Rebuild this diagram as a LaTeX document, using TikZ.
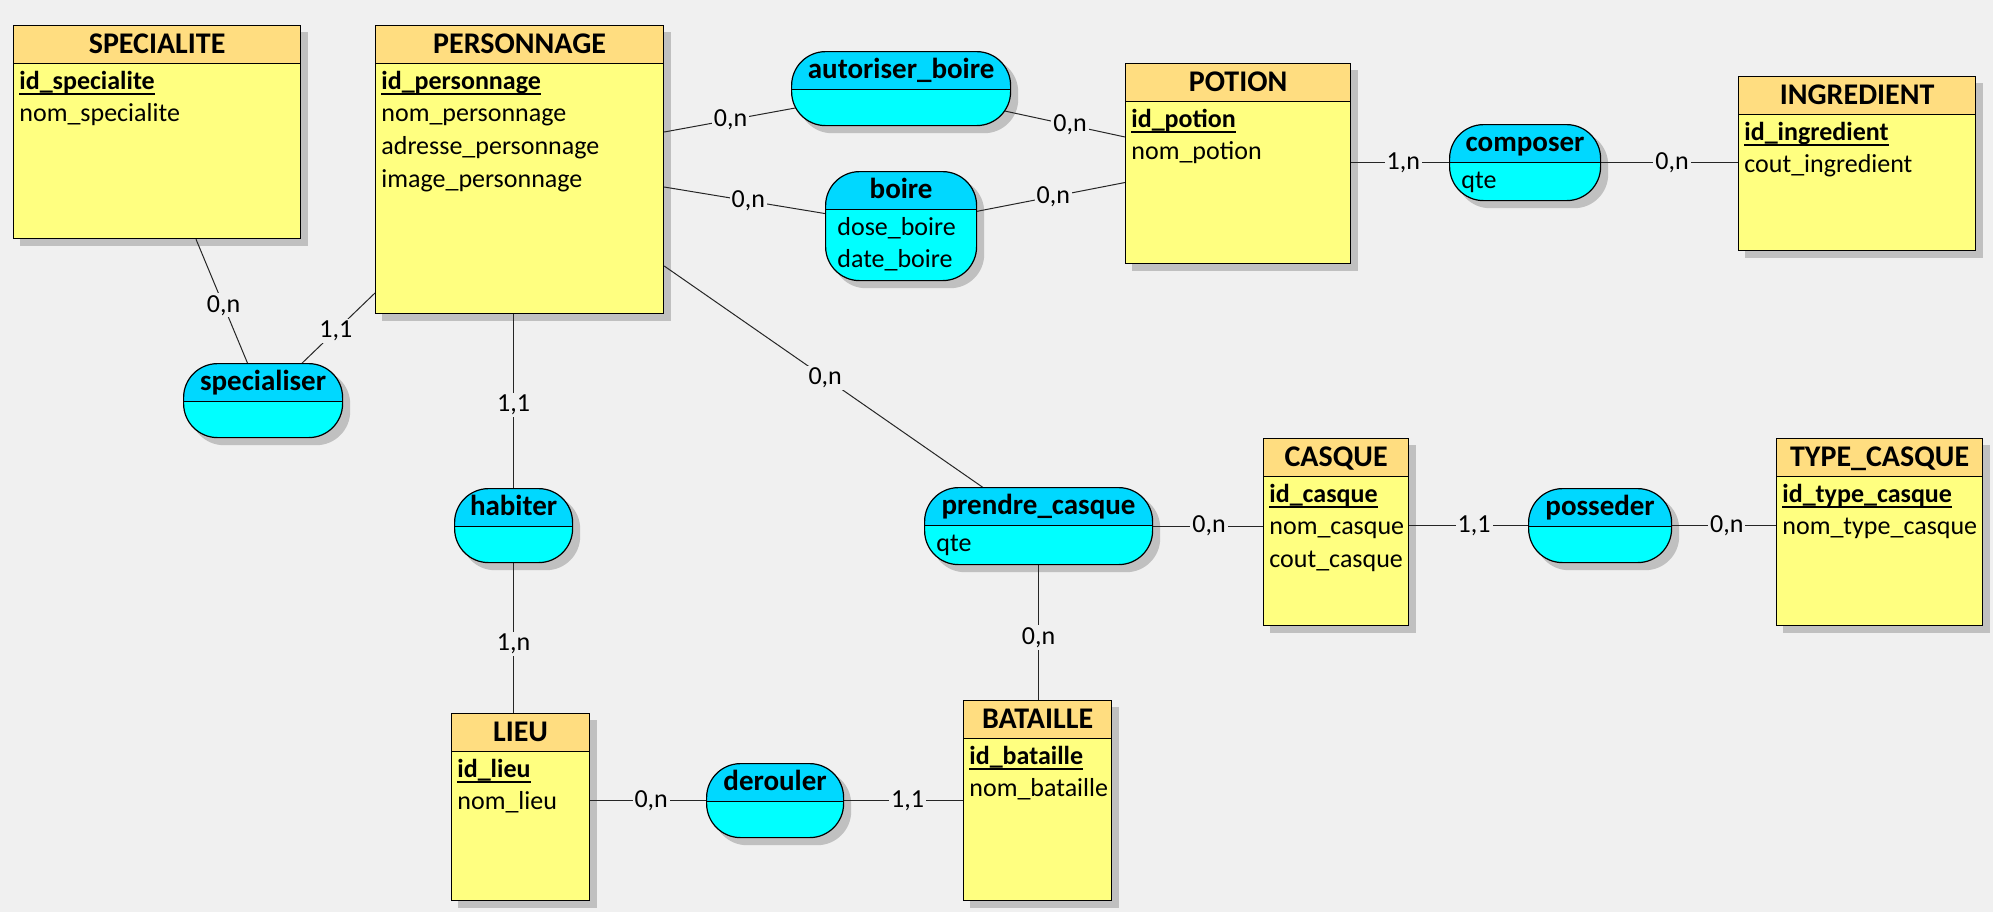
\documentclass[tikz,border=0pt]{standalone}
\usepackage{fontspec}
\setmainfont{Carlito}
\usetikzlibrary{calc}
\definecolor{canvasgray}{HTML}{F0F0F0}
\definecolor{shadowgray}{HTML}{C0C0C0}
\definecolor{enthead}{HTML}{FFDD80}
\definecolor{entbody}{HTML}{FFFF80}
\definecolor{assohead}{HTML}{00D8FF}
\definecolor{assobody}{HTML}{00FFFF}
\pgfdeclarelayer{shadowlayer}
\pgfdeclarelayer{linklayer}
\pgfsetlayers{shadowlayer,linklayer,main}
\newcommand{\pkey}[1]{\setbox0\hbox{#1}\rlap{\rule[-2.9pt]{\wd0}{0.7pt}}\box0}
\newcommand{\fieldrows}[4]{% node, indent, first row, fields
  \foreach \f [count=\r from #3] in {#4}{
    \pgfmathsetmacro{\dy}{32+16.35*\r}
    \node[attr] at ([xshift=#2,yshift=-\dy pt]#1.north west) {\f};}}
\tikzset{
  header/.style={path picture={
      \fill[#1,sharp corners] (path picture bounding box.north west) rectangle ([yshift=-18.75pt]path picture bounding box.north east);
      \draw[line width=0.6pt,sharp corners] ([yshift=-18.75pt]path picture bounding box.north west) -- ([yshift=-18.75pt]path picture bounding box.north east);}},
  entity/.style={draw, line width=0.6pt, fill=entbody, header=enthead, anchor=north west, inner sep=0pt},
  assoc/.style={draw, line width=0.6pt, fill=assobody, header=assohead, anchor=north west, inner sep=0pt, rounded corners=17pt},
  title/.style={anchor=base, inner sep=0pt, font=\bfseries\fontsize{15}{18}\selectfont},
  verb/.style={title, font=\bfseries\fontsize{14.5}{17}\selectfont},
  attr/.style={anchor=base west, inner sep=0pt, font=\fontsize{13}{15}\selectfont},
  key/.style={attr, font=\bfseries\fontsize{13}{15}\selectfont},
  card/.style={fill=canvasgray, inner sep=1pt, font=\fontsize{13}{15}\selectfont},
  link/.style={draw=black!85, line width=0.5pt}
}
\begin{document}
\begin{tikzpicture}[x=0.5pt,y=-0.5pt]
  \useasboundingbox (0,0) rectangle (1993,912);

  % entities
  \node[entity, minimum width=143.5pt, minimum height=106.5pt] (specialite) at (13,25) {};
  \node[entity, minimum width=144pt, minimum height=144pt] (personnage) at (375,25) {};
  \node[entity, minimum width=112.5pt, minimum height=100pt] (potion) at (1125,63) {};
  \node[entity, minimum width=118.5pt, minimum height=87pt] (ingredient) at (1738,76) {};
  \node[entity, minimum width=72.5pt, minimum height=93.5pt] (casque) at (1263,438) {};
  \node[entity, minimum width=103pt, minimum height=93.5pt] (typecasque) at (1776,438) {};
  \node[entity, minimum width=69pt, minimum height=93.5pt] (lieu) at (451,713) {};
  \node[entity, minimum width=74pt, minimum height=100pt] (bataille) at (963,700) {};

  % associations
  \node[assoc, minimum width=79.5pt, minimum height=37pt] (specialiser) at (183,363) {};
  \node[assoc, minimum width=109.5pt, minimum height=37pt] (autoriser) at (791,51) {};
  \node[assoc, minimum width=75.5pt, minimum height=54.5pt] (boire) at (825,171) {};
  \node[assoc, minimum width=75.5pt, minimum height=38pt] (composer) at (1449,124) {};
  \node[assoc, minimum width=59pt, minimum height=37pt] (habiter) at (454,488) {};
  \node[assoc, minimum width=114pt, minimum height=38.5pt] (prendre) at (924,487) {};
  \node[assoc, minimum width=68.5pt, minimum height=37pt] (derouler) at (706,763) {};
  \node[assoc, minimum width=71.5pt, minimum height=37pt] (posseder) at (1528,488) {};

  % titles and keys
  \foreach \n/\t in {specialite/SPECIALITE, personnage/PERSONNAGE, potion/POTION, ingredient/INGREDIENT,
      casque/CASQUE, typecasque/TYPE\_CASQUE, lieu/LIEU, bataille/BATAILLE}
    \node[title] at ([yshift=-14pt]\n.north) {\t};
  \foreach \n/\t in {specialiser/specialiser, autoriser/autoriser\_boire, boire/boire, composer/composer,
      habiter/habiter, prendre/prendre\_casque, derouler/derouler, posseder/posseder}
    \node[verb] at ([yshift=-13.75pt]\n.north) {\t};
  \foreach \n/\k in {specialite/id\_specialite, personnage/id\_personnage, potion/id\_potion,
      ingredient/id\_ingredient, casque/id\_casque, typecasque/id\_type\_casque,
      lieu/id\_lieu, bataille/id\_bataille}
    \node[key] at ([xshift=3pt,yshift=-32pt]\n.north west) {\pkey{\k}};

  % other fields
  \fieldrows{specialite}{3pt}{1}{nom\_specialite}
  \fieldrows{personnage}{3pt}{1}{nom\_personnage, adresse\_personnage, image\_personnage}
  \fieldrows{potion}{3pt}{1}{nom\_potion}
  \fieldrows{ingredient}{3pt}{1}{cout\_ingredient}
  \fieldrows{casque}{3pt}{1}{nom\_casque, cout\_casque}
  \fieldrows{typecasque}{3pt}{1}{nom\_type\_casque}
  \fieldrows{lieu}{3pt}{1}{nom\_lieu}
  \fieldrows{bataille}{3pt}{1}{nom\_bataille}
  \fieldrows{boire}{6pt}{0}{dose\_boire, date\_boire}
  \fieldrows{composer}{6pt}{0}{qte}
  \fieldrows{prendre}{6pt}{0}{qte}

  \begin{pgfonlayer}{linklayer}
    \draw[link] ($(specialite.south west)+(183,0)$) -- node[card,pos=0.41]{0,n} (specialiser.center);
    \draw[link] ($(personnage.north west)+(0,268)$) -- node[card,pos=0.35]{1,1} (specialiser.center);
    \draw[link] (habiter.center |- personnage.south) -- node[card,pos=0.43]{1,1} (habiter.center);
    \draw[link] (habiter.center) -- node[card,pos=0.63]{1,n} (habiter.center |- lieu.north);
    \draw[link] ($(personnage.north east)+(0,107)$) -- node[card,pos=0.28]{0,n} (autoriser.center);
    \draw[link] (autoriser.center) -- node[card,pos=0.755]{0,n} ($(potion.north west)+(0,74)$);
    \draw[link] ($(personnage.north east)+(0,162)$) -- node[card,pos=0.355]{0,n} (boire.center);
    \draw[link] (boire.center) -- node[card,pos=0.68]{0,n} ($(potion.north west)+(0,119.5)$);
    \draw[link] ($(personnage.north east)+(0,241)$) -- node[card,pos=0.43]{0,n} (prendre.center);
    \draw[link] (prendre.center) -- node[card,pos=0.76]{0,n} (casque.west |- prendre.center);
    \draw[link] (prendre.center) -- node[card,pos=0.64]{0,n} (prendre.center |- bataille.north);
    \draw[link] (lieu.east |- derouler.center) -- node[card,pos=0.33]{0,n} (derouler.center);
    \draw[link] (derouler.center) -- node[card,pos=0.705]{1,1} (bataille.west |- derouler.center);
    \draw[link] (potion.east |- composer.center) -- node[card,pos=0.3]{1,n} (composer.center);
    \draw[link] (composer.center) -- node[card,pos=0.69]{0,n} (ingredient.west |- composer.center);
    \draw[link] (casque.east |- posseder.center) -- node[card,pos=0.34]{1,1} (posseder.center);
    \draw[link] (posseder.center) -- node[card,pos=0.72]{0,n} (typecasque.west |- posseder.center);
  \end{pgfonlayer}

  \begin{pgfonlayer}{shadowlayer}
    \fill[canvasgray] (0,0) rectangle (1993,912);
    \foreach \n in {specialite,personnage,potion,ingredient,casque,typecasque,lieu,bataille}
      \fill[shadowgray] ([shift={(3.5pt,-3.5pt)}]\n.north west) rectangle ([shift={(3.5pt,-3.5pt)}]\n.south east);
    \foreach \n in {specialiser,autoriser,boire,composer,habiter,prendre,derouler,posseder}
      \fill[shadowgray,rounded corners=17pt] ([shift={(3.5pt,-3.5pt)}]\n.north west) rectangle ([shift={(3.5pt,-3.5pt)}]\n.south east);
  \end{pgfonlayer}
\end{tikzpicture}
\end{document}
